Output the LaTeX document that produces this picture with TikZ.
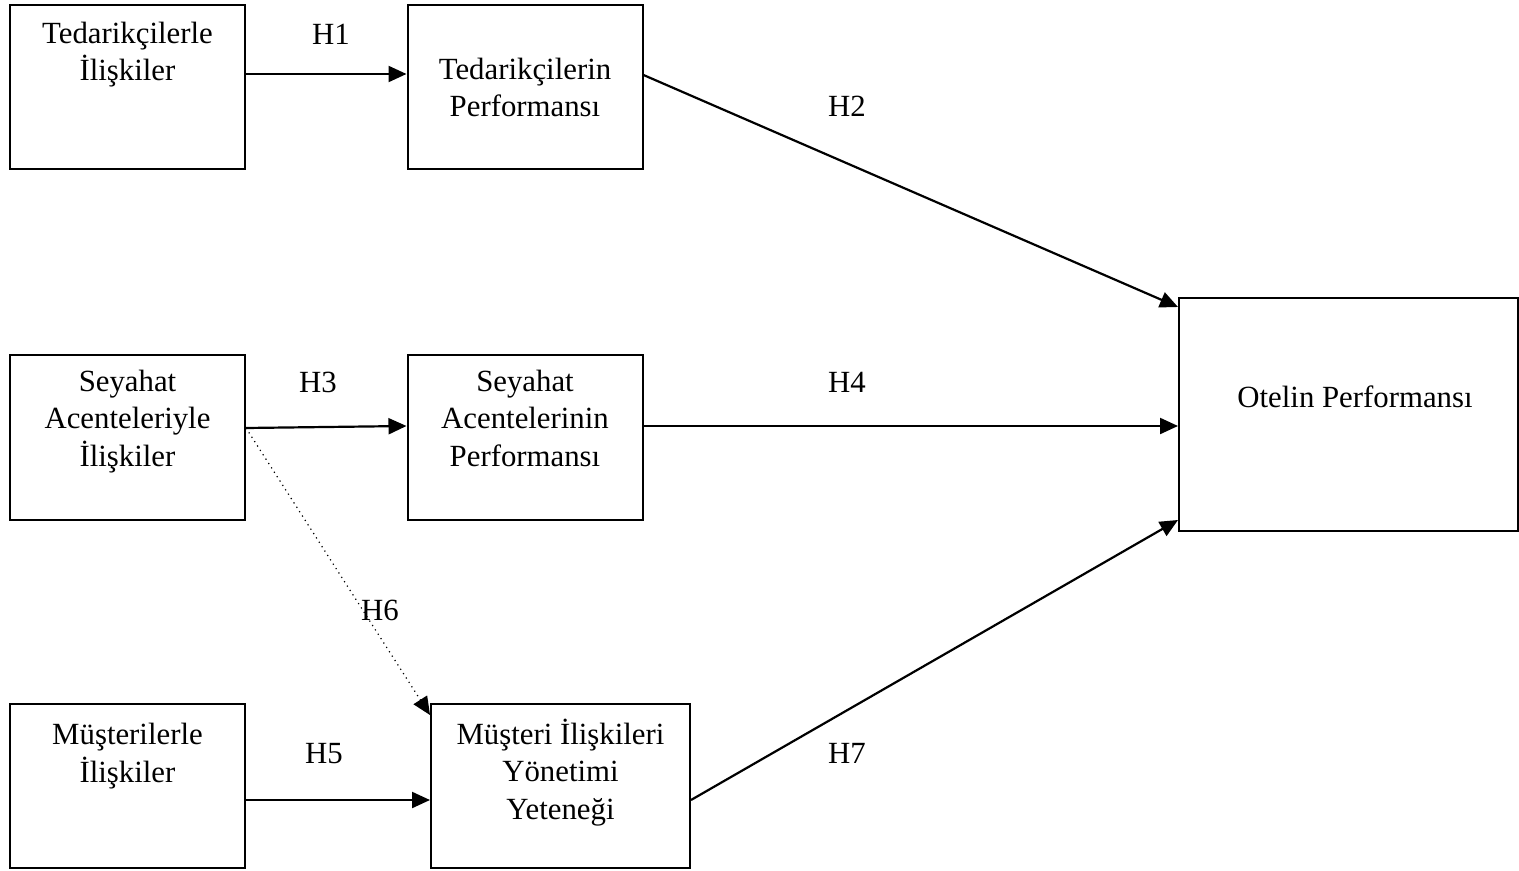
\documentclass[tikz,border=0pt]{standalone}
\usepackage{fontspec}
\setmainfont{Liberation Serif}
\usetikzlibrary{positioning, arrows.meta}

\begin{document}
\begin{tikzpicture}[
  x=0.5pt, y=-0.5pt,
  font=\fontsize{15.4}{18.75}\selectfont,
  kutu/.style={draw=black, line width=1pt, inner sep=0pt,
              minimum width=117.5pt, minimum height=82pt},
  yazi/.style={align=center, anchor=base, inner sep=0pt},
  etiket/.style={anchor=base, inner sep=0pt},
  ok/.style={-{Triangle[length=9pt, width=8pt]}, line width=1.1pt, black},
  nokta/.style={-{Triangle[length=9pt, width=8pt]}, line width=0.6pt, black,
              dotted}
]
  \useasboundingbox (0,0) rectangle (1519,871);

  % Kutular
  \node[kutu] (tedi) at (127.5,87) {};
  \node[kutu] (tedp) at (525,87) {};
  \node[kutu] (seyi) at (127.5,437.5) {};
  \node[kutu] (seyp) at (525,437.5) {};
  \node[kutu] (musi) at (127.5,786) {};
  \node[kutu, minimum width=129.5pt] (crm) at (560.5,786) {};
  \node[kutu, minimum width=169.5pt, minimum height=116.5pt] (otel) at (1348.5,414.5) {};

  % Yazilar (son satirin taban cizgisi)
  \node[yazi] (t1) at (127.5,81) {Tedarikçilerle\\İlişkiler};
  \node[yazi] (t2) at (525,117) {Tedarikçilerin\\Performansı};
  \node[yazi] (t3) at (127.5,466) {Seyahat\\Acenteleriyle\\İlişkiler};
  \node[yazi] (t4) at (525,466) {Seyahat\\Acentelerinin\\Performansı};
  \node[yazi] (t5) at (127.5,782) {Müşterilerle\\İlişkiler};
  \node[yazi] (t6) at (560.5,819) {Müşteri İlişkileri\\Yönetimi\\Yeteneği};
  \node[yazi] (t7) at (1355,408) {Otelin Performansı};

  % Hipotezler
  \node[etiket] (h1) at (331,45) {H1};
  \node[etiket] (h2) at (847,117) {H2};
  \node[etiket] (h3) at (318,393) {H3};
  \node[etiket] (h4) at (847,393) {H4};
  \node[etiket] (h5) at (324,763) {H5};
  \node[etiket] (h6) at (380,620) {H6};
  \node[etiket] (h7) at (847,763) {H7};

  % Oklar
  \draw[ok] ([yshift=6.5pt]tedi.east) -- ([yshift=6.5pt]tedp.west);
  \draw[ok] ([yshift=6pt]tedp.east) -- ([yshift=-5pt]otel.north west);
  \draw[ok] ([yshift=4.75pt]seyi.east) -- ([yshift=5.75pt]seyp.west);
  \draw[ok] ([yshift=5.75pt]seyp.east) -- ([yshift=-5.75pt]otel.west);
  \draw[ok] ([yshift=-7pt]musi.east) -- ([yshift=-7pt]crm.west);
  \draw[nokta] ([yshift=4.75pt]seyi.east) -- ([yshift=-6pt]crm.north west);
  \draw[ok] ([yshift=-7pt]crm.east) -- ([yshift=6pt]otel.south west);
\end{tikzpicture}
\end{document}
